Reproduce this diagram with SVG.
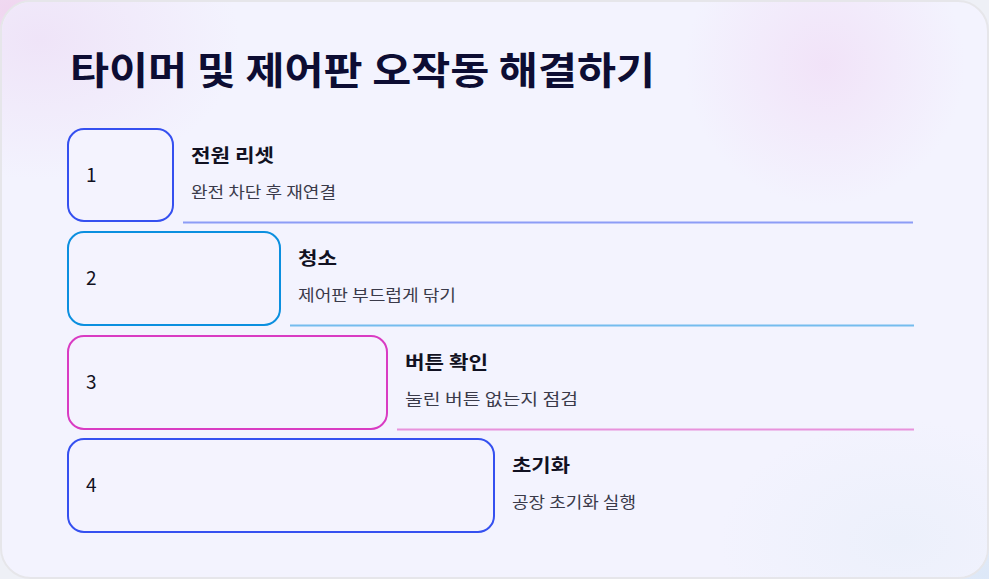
<svg xmlns="http://www.w3.org/2000/svg" width="989" height="579" viewBox="0 0 989 579">
  <defs>
    <radialGradient id="bgTL" cx="0" cy="0" r="1" gradientUnits="userSpaceOnUse" gradientTransform="translate(10 10) scale(160 120)">
      <stop offset="0" stop-color="#f0d6f0"/>
      <stop offset="1" stop-color="#f0d6f0" stop-opacity="0"/>
    </radialGradient>
    <radialGradient id="bgBR" cx="0" cy="0" r="1" gradientUnits="userSpaceOnUse" gradientTransform="translate(985 575) scale(160 120)">
      <stop offset="0" stop-color="#dde8f8"/>
      <stop offset="1" stop-color="#dde8f8" stop-opacity="0"/>
    </radialGradient>
    <radialGradient id="blobTR" cx="0" cy="0" r="1" gradientUnits="userSpaceOnUse" gradientTransform="translate(825 65) scale(140 140)">
      <stop offset="0" stop-color="#f1e0f7" stop-opacity="0.85"/>
      <stop offset="1" stop-color="#f1e0f7" stop-opacity="0"/>
    </radialGradient>
    <radialGradient id="blobBR" cx="0" cy="0" r="1" gradientUnits="userSpaceOnUse" gradientTransform="translate(900 540) scale(180 120)">
      <stop offset="0" stop-color="#ecf0fb"/>
      <stop offset="1" stop-color="#ecf0fb" stop-opacity="0"/>
    </radialGradient>
    <radialGradient id="blobTL" cx="0" cy="0" r="1" gradientUnits="userSpaceOnUse" gradientTransform="translate(40 40) scale(200 140)">
      <stop offset="0" stop-color="#efe4f8"/>
      <stop offset="1" stop-color="#efe4f8" stop-opacity="0"/>
    </radialGradient>
    <style>
      .title { font-family: "Noto Sans CJK KR", "Noto Sans", sans-serif; font-weight: 700; font-size: 38px; fill: #0d0d33; }
      .num { font-family: "Noto Sans CJK KR", "Noto Sans", sans-serif; font-size: 19px; fill: #111122; }
      .head { font-family: "Noto Sans CJK KR", "Noto Sans", sans-serif; font-weight: 700; font-size: 18px; fill: #111122; }
      .desc { font-family: "Noto Sans CJK KR", "Noto Sans", sans-serif; font-size: 16px; fill: #3a3a4a; }
      .box { fill: #f4f3fe; stroke-width: 2; }
      .line { stroke-width: 2; fill: none; }
    </style>
  </defs>

  <rect width="989" height="579" fill="#eef0f6"/>
  <rect width="989" height="579" fill="url(#bgTL)"/>
  <rect width="989" height="579" fill="url(#bgBR)"/>

  <rect x="1" y="1" width="987" height="577" rx="30" fill="#f3f3fe" stroke="#e6e6ea" stroke-width="2"/>
  <rect x="2" y="2" width="985" height="575" rx="29" fill="url(#blobTL)"/>
  <rect x="2" y="2" width="985" height="575" rx="29" fill="url(#blobTR)"/>
  <rect x="2" y="2" width="985" height="575" rx="29" fill="url(#blobBR)"/>

  <text class="title" x="70" y="84" textLength="585" lengthAdjust="spacingAndGlyphs">타이머 및 제어판 오작동 해결하기</text>

  <g id="connectors">
    <line class="line" x1="183" y1="222.5" x2="913" y2="222.5" stroke="#8c9cf6"/>
    <line class="line" x1="290" y1="325.5" x2="914" y2="325.5" stroke="#74bcee"/>
    <line class="line" x1="397" y1="429.5" x2="914" y2="429.5" stroke="#e892dc"/>
  </g>

  <g id="step1">
    <rect class="box" x="68" y="129" width="105" height="92" rx="16" stroke="#3550f0"/>
    <text class="num" x="86" y="182">1</text>
    <text class="head" x="191" y="162" textLength="83" lengthAdjust="spacingAndGlyphs">전원 리셋</text>
    <text class="desc" x="191" y="198" textLength="145" lengthAdjust="spacingAndGlyphs">완전 차단 후 재연결</text>
  </g>

  <g id="step2">
    <rect class="box" x="68" y="232" width="212" height="93" rx="16" stroke="#0b8fdf"/>
    <text class="num" x="86" y="285">2</text>
    <text class="head" x="298" y="265" textLength="39" lengthAdjust="spacingAndGlyphs">청소</text>
    <text class="desc" x="298" y="301" textLength="158" lengthAdjust="spacingAndGlyphs">제어판 부드럽게 닦기</text>
  </g>

  <g id="step3">
    <rect class="box" x="68" y="336" width="319" height="93" rx="16" stroke="#d93bc3"/>
    <text class="num" x="86" y="389">3</text>
    <text class="head" x="405" y="369" textLength="83" lengthAdjust="spacingAndGlyphs">버튼 확인</text>
    <text class="desc" x="405" y="405" textLength="173" lengthAdjust="spacingAndGlyphs">눌린 버튼 없는지 점검</text>
  </g>

  <g id="step4">
    <rect class="box" x="68" y="439" width="426" height="93" rx="16" stroke="#3550f0"/>
    <text class="num" x="86" y="492">4</text>
    <text class="head" x="512" y="472" textLength="58" lengthAdjust="spacingAndGlyphs">초기화</text>
    <text class="desc" x="512" y="508" textLength="124" lengthAdjust="spacingAndGlyphs">공장 초기화 실행</text>
  </g>
</svg>
